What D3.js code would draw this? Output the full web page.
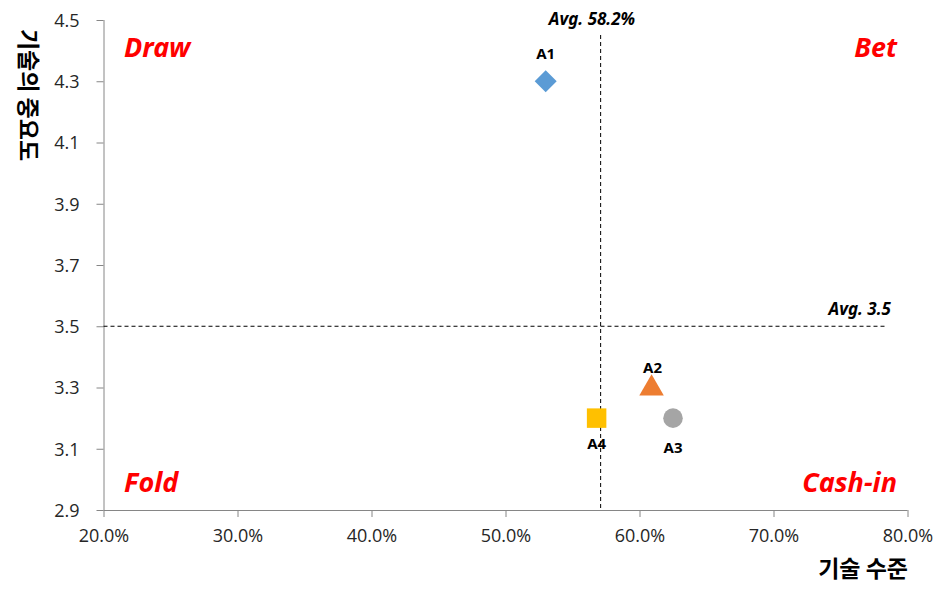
<!DOCTYPE html>
<html>
<head>
<meta charset="utf-8">
<script src="https://cdn.jsdelivr.net/npm/d3@7/dist/d3.min.js"></script>
<style>
  html, body { margin: 0; padding: 0; background: #fff; }
  svg { display: block; }
  text { font-family: "Noto Sans", "Noto Sans CJK KR", sans-serif; }
</style>
</head>
<body>
<div id="chart"></div>
<script>
// ---- data ----
const names = ["A1", "A2", "A3", "A4"];
const techLevel = [0.530, 0.609, 0.625, 0.568];      // x (기술 수준)
const importance = [4.3, 3.3, 3.2, 3.2];              // y (기술의 중요도)
const shapes = ["diamond", "triangle", "circle", "square"];
const colors = ["#5B9BD5", "#ED7D31", "#A5A5A5", "#FFC000"];
const xTicks = [0.2, 0.3, 0.4, 0.5, 0.6, 0.7, 0.8];
const yTicks = [2.9, 3.1, 3.3, 3.5, 3.7, 3.9, 4.1, 4.3, 4.5];
const avgXPos = 0.571;          // drawn position of vertical average line
const avgXLabel = "Avg. 58.2%";
const avgY = 3.5;
const avgYLabel = "Avg. 3.5";
const quadrantLabels = ["Draw", "Bet", "Fold", "Cash-in"];
const xTitle = "기술 수준";
const yTitle = "기술의 중요도";

// ---- layout ----
const W = 951, H = 595;
const m = { left: 103.5, right: 951 - 907.5, top: 20, bottom: 595 - 510 };
const svg = d3.select("#chart").append("svg").attr("width", W).attr("height", H);

const x = d3.scaleLinear().domain([0.2, 0.8]).range([m.left, W - m.right]);
const y = d3.scaleLinear().domain([2.9, 4.5]).range([H - m.bottom, m.top]);

const axisColor = "#868686";

// y axis
const gy = svg.append("g").attr("transform", `translate(${m.left},0)`)
  .call(d3.axisLeft(y).tickValues(yTicks).tickFormat(d3.format(".1f")).tickSize(7).tickPadding(17));
// x axis
const gx = svg.append("g").attr("transform", `translate(0,${H - m.bottom})`)
  .call(d3.axisBottom(x).tickValues(xTicks).tickFormat(d3.format(".1%")).tickSize(7).tickPadding(12));

[gx, gy].forEach(g => {
  g.attr("font-size", null).attr("font-family", null);
  g.select(".domain").attr("stroke", axisColor).attr("stroke-width", 1);
  g.selectAll(".tick line").attr("stroke", axisColor);
  g.selectAll(".tick text").attr("fill", "#262626").style("font-size", "18px")
    .style("font-family", "'Open Sans', 'Noto Sans', sans-serif");
});
gx.select(".domain").attr("d", `M${m.left},0.5H${W - m.right}`);
gy.select(".domain").attr("d", `M0.5,${m.top}V${H - m.bottom}`);
gy.selectAll(".tick text").attr("dy", "0.35em");

// average lines
svg.append("line")
  .attr("x1", x(avgXPos)).attr("x2", x(avgXPos))
  .attr("y1", 35).attr("y2", y(2.9))
  .attr("stroke", "#000").attr("stroke-width", 1).attr("stroke-dasharray", "4,3");
svg.append("line")
  .attr("x1", x(0.2)).attr("x2", 886)
  .attr("y1", y(avgY)).attr("y2", y(avgY))
  .attr("stroke", "#000").attr("stroke-width", 1).attr("stroke-dasharray", "4,3");

svg.append("text").text(avgXLabel)
  .attr("x", 592).attr("y", 25).attr("text-anchor", "middle")
  .style("font-size", "17px").style("font-weight", "bold").style("font-style", "italic").attr("fill", "#000");
svg.append("text").text(avgYLabel)
  .attr("x", 891).attr("y", y(avgY) - 11).attr("text-anchor", "end")
  .style("font-size", "17px").style("font-weight", "bold").style("font-style", "italic").attr("fill", "#000");

// quadrant labels
const qStyle = sel => sel.style("font-size", "27px").style("font-weight", "bold")
  .style("font-style", "italic").attr("fill", "#FF0000");
svg.append("text").text(quadrantLabels[0]).attr("x", 124).attr("y", 57).call(qStyle);
svg.append("text").text(quadrantLabels[1]).attr("x", 897).attr("y", 57).attr("text-anchor", "end").call(qStyle);
svg.append("text").text(quadrantLabels[2]).attr("x", 124).attr("y", 492).call(qStyle);
svg.append("text").text(quadrantLabels[3]).attr("x", 897).attr("y", 492).attr("text-anchor", "end").call(qStyle);

// points
const symMap = {
  triangle: d3.symbolTriangle,
  circle: d3.symbolCircle,
  square: d3.symbolSquare
};
const sizes = { triangle: 260, circle: 300, square: 380 };
const data = names.map((n, i) => ({ n, x: techLevel[i], y: importance[i], s: shapes[i], c: colors[i] }));

svg.selectAll("path.pt").data(data).enter().append("path")
  .attr("class", "pt")
  .attr("d", d => {
    if (d.s === "diamond") {
      const r = 11;
      return `M0,${-r}L${r},0L0,${r}L${-r},0Z`;
    }
    return d3.symbol().type(symMap[d.s]).size(sizes[d.s])();
  })
  .attr("transform", d => `translate(${x(d.x)},${y(d.y) + (d.s === "triangle" ? 1 : 0)})`)
  .attr("fill", d => d.c);

// point labels
const labelOffset = { A1: [0, -22], A2: [1, -15], A3: [0, 35], A4: [0, 31] };
svg.selectAll("text.pl").data(data).enter().append("text")
  .attr("class", "pl")
  .text(d => d.n)
  .attr("x", d => x(d.x) + labelOffset[d.n][0])
  .attr("y", d => y(d.y) + labelOffset[d.n][1])
  .attr("text-anchor", "middle")
  .style("font-size", "15px").style("font-weight", "bold").attr("fill", "#000");

// axis titles
svg.append("text").text(xTitle)
  .attr("x", 908).attr("y", 577).attr("text-anchor", "end")
  .style("font-family", "'Noto Sans CJK KR', sans-serif")
  .style("font-size", "23px").style("font-weight", "bold").attr("fill", "#000");
svg.append("text").text(yTitle)
  .attr("transform", "translate(20,95) rotate(90)")
  .attr("text-anchor", "middle")
  .style("font-family", "'Noto Sans CJK KR', sans-serif")
  .style("font-size", "23px").style("font-weight", "bold").attr("fill", "#000");
</script>
</body>
</html>
